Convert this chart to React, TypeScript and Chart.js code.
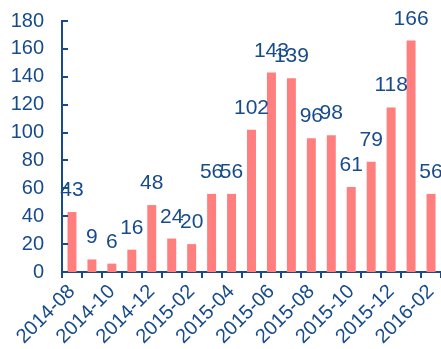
import React, { useEffect, useRef } from "react";
import { Chart, registerables } from "chart.js";

Chart.register(...registerables);

const categories = [
  "2014-08", "2014-09", "2014-10", "2014-11", "2014-12", "2015-01", "2015-02",
  "2015-03", "2015-04", "2015-05", "2015-06", "2015-07", "2015-08", "2015-09",
  "2015-10", "2015-11", "2015-12", "2016-01", "2016-02",
];
const values = [43, 9, 6, 16, 48, 24, 20, 56, 56, 102, 143, 139, 96, 98, 61, 79, 118, 166, 56];
const yTicks = [0, 20, 40, 60, 80, 100, 120, 140, 160, 180];

const BLUE = "#174B8C";
const BAR = "#FF7F7F";
const FONT = "Liberation Sans, Arial, sans-serif";

const labelPlugin = {
  id: "valueLabels",
  afterDatasetsDraw(chart: any) {
    const ctx = chart.ctx;
    const meta = chart.getDatasetMeta(0);
    ctx.save();
    ctx.fillStyle = BLUE;
    ctx.font = `21px ${FONT}`;
    ctx.textAlign = "center";
    ctx.textBaseline = "alphabetic";
    meta.data.forEach((bar: any, i: number) => {
      ctx.fillText(String(values[i]), bar.x, bar.y - 16);
    });
    const y = chart.scales.y;
    const left = chart.chartArea.left;
    ctx.strokeStyle = BLUE;
    ctx.lineWidth = 2;
    yTicks.forEach((v) => {
      const py = Math.round(y.getPixelForValue(v));
      ctx.beginPath();
      ctx.moveTo(left, py);
      ctx.lineTo(left + 6, py);
      ctx.stroke();
    });
    ctx.restore();
  },
};

export default function App() {
  const ref = useRef<HTMLCanvasElement>(null);
  useEffect(() => {
    const chart = new Chart(ref.current!, {
      type: "bar",
      data: {
        labels: categories,
        datasets: [
          {
            data: values,
            backgroundColor: BAR,
            barPercentage: 0.45,
            categoryPercentage: 1,
          },
        ],
      },
      options: {
        animation: false,
        responsive: false,
        maintainAspectRatio: false,
        layout: { padding: { top: 0, right: 0, left: 0, bottom: 0 } },
        plugins: { legend: { display: false }, tooltip: { enabled: false } },
        scales: {
          x: {
            offset: true,
            border: { display: true, color: BLUE, width: 2 },
            grid: {
              display: true,
              drawOnChartArea: false,
              drawTicks: true,
              tickLength: 6,
              color: BLUE,
              lineWidth: 2,
              offset: true,
            },
            ticks: {
              autoSkip: false,
              maxRotation: 45,
              minRotation: 45,
              color: BLUE,
              font: { size: 20, family: FONT },
              padding: 2,
              callback: (_v: any, i: number) => (i % 2 === 0 ? categories[i] : ""),
            },
            afterFit: (s: any) => {
              s.height = 77;
              s.paddingRight = 0;
              s.paddingLeft = 0;
            },
          },
          y: {
            min: 0,
            max: 180,
            border: { display: true, color: BLUE, width: 2 },
            grid: { display: false, drawTicks: false },
            ticks: {
              stepSize: 20,
              autoSkip: false,
              color: BLUE,
              font: { size: 20, family: FONT },
              padding: 18,
            },
            afterFit: (s: any) => {
              s.width = 62;
              s.paddingTop = 21;
              s.paddingBottom = 0;
            },
          },
        },
      },
      plugins: [labelPlugin],
    });
    return () => chart.destroy();
  }, []);
  return (
    <div style={{ position: "fixed", left: 0, top: 0, width: 441, height: 349, background: "#fff" }}>
      <canvas ref={ref} width={441} height={349} style={{ width: 441, height: 349 }} />
    </div>
  );
}
